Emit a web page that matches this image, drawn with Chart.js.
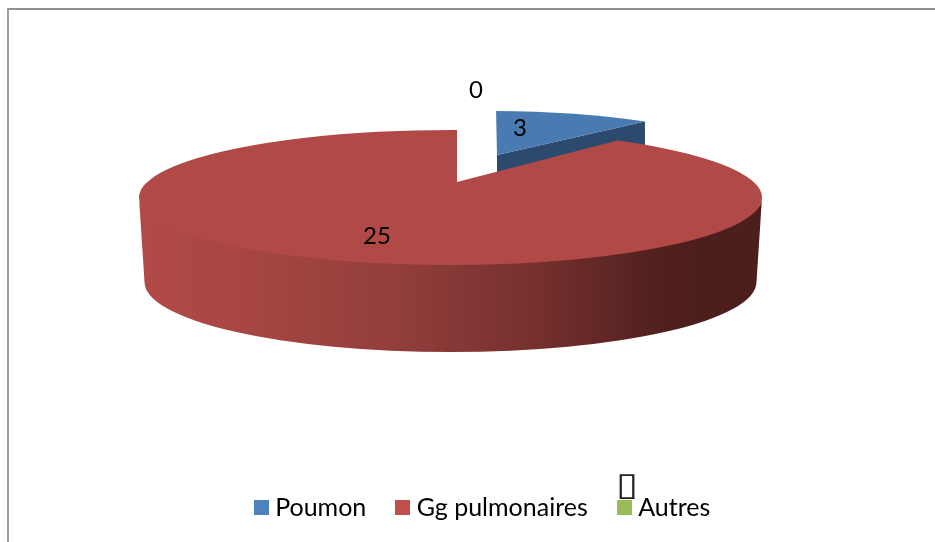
<!DOCTYPE html>
<html><head><meta charset="utf-8">
<script src="https://cdn.jsdelivr.net/npm/chart.js@4"></script>
<style>
html,body{margin:0;padding:0;background:#fff;overflow:hidden}
#wrap{position:relative;width:935px;height:542px}
#frame{position:absolute;left:7px;top:8px;right:0;bottom:0;border-left:2px solid #a0a0a0;border-top:2px solid #909090}
canvas{position:absolute;left:0;top:0}
</style></head><body>
<div id="wrap"><div id="frame"></div><canvas id="c" width="935" height="542"></canvas></div>
<script>
const categories = ["Poumon", "Gg pulmonaires", "Autres"];
const values = [3, 25, 0];
const legendColors = ["#4F81BD", "#C0504D", "#9BBB59"];
const labelAnchors = [[520,128],[377,236],[476,90]];

const FONT = "Lato, Carlito, sans-serif";
function swatch(color){
  const s=document.createElement('canvas'); s.width=15; s.height=15;
  const g=s.getContext('2d'); g.fillStyle=color; g.fillRect(0,0,15,15); return s;
}
function warp(t){ // foreshortening of the tilted disc
  const k=0.76; let a=Math.atan2(k*Math.sin(t),Math.cos(t));
  if(a<0) a+=2*Math.PI;
  const turns=Math.floor(t/(2*Math.PI)+1e-9);
  if(Math.abs(t-2*Math.PI*turns)<1e-9) return 2*Math.PI*turns;
  return a+2*Math.PI*turns;
}
const TURN=0.021;
const discs=[
 {apex:[497,155],c:[490,178.5],rx:289,ry:67.5,top:'#4A7AB2',cut:'#2C4A6E',depth:87},
 {apex:[457,182],c:[450.5,197.5],rx:311.5,ry:67.5,top:'#B14A47'}
];
const pie3d={id:'pie3d',
 beforeDatasetsDraw(chart){
  const ctx=chart.ctx, arcs=chart.getDatasetMeta(0).data;
  const ang=a=>warp(a+Math.PI/2)+TURN-Math.PI/2;
  // blue slice: cut face then top
  let d=discs[0], el=arcs[0], e=ang(el.endAngle), s=ang(el.startAngle);
  const ex=d.c[0]+d.rx*Math.cos(e), ey=d.c[1]+d.ry*Math.sin(e);
  ctx.save();
  ctx.fillStyle=d.cut; ctx.beginPath();
  ctx.moveTo(d.apex[0],d.apex[1]); ctx.lineTo(ex,ey); ctx.lineTo(ex,ey+d.depth); ctx.lineTo(d.apex[0],d.apex[1]+d.depth); ctx.closePath(); ctx.fill();
  ctx.fillStyle=d.top; ctx.beginPath();
  ctx.moveTo(d.apex[0],d.apex[1]); ctx.ellipse(d.c[0],d.c[1],d.rx,d.ry,0,s,e); ctx.closePath(); ctx.fill();
  // red slice: outer wall then top
  d=discs[1]; el=arcs[1];
  const g=ctx.createLinearGradient(139,0,762,0);
  [[0,'#B14A47'],[0.18,'#A64643'],[0.42,'#913E3B'],[0.65,'#742F2C'],[0.82,'#522120'],[0.9,'#4C1E1C'],[1,'#4C1E1C']].forEach(p=>g.addColorStop(p[0],p[1]));
  ctx.fillStyle=g; ctx.beginPath();
  ctx.moveTo(139,197.5); ctx.lineTo(144.5,282);
  ctx.ellipse(450.5,282,306,70,0,Math.PI,0,true);
  ctx.lineTo(762,197.5);
  ctx.ellipse(d.c[0],d.c[1],d.rx,d.ry-3,0,0,Math.PI,false);
  ctx.closePath(); ctx.fill();
  ctx.fillStyle=d.top; ctx.beginPath();
  ctx.moveTo(d.apex[0],d.apex[1]);
  ctx.ellipse(d.c[0],d.c[1],d.rx,d.ry,0,ang(el.startAngle),ang(el.endAngle));
  ctx.closePath(); ctx.fill();
  ctx.restore();
  return false;
 },
 afterDraw(chart){
  const ctx=chart.ctx;
  ctx.save();
  ctx.fillStyle='#000'; ctx.textAlign='center'; ctx.textBaseline='middle';
  ctx.font='24px '+FONT;
  values.forEach((v,i)=>ctx.fillText(String(v),labelAnchors[i][0],labelAnchors[i][1]));
  ctx.translate(627,487); ctx.scale(1.25,1);
  ctx.font='32px "DejaVu Sans"';
  ctx.fillStyle='#222';
  ctx.fillText('\u25AF',0,0);
  ctx.restore();
 }
};
new Chart(document.getElementById('c'),{
 type:'pie',
 data:{labels:categories,datasets:[{data:values,backgroundColor:legendColors,borderWidth:0}]},
 plugins:[pie3d],
 options:{
  responsive:false,animation:false,rotation:0,
  layout:{padding:{top:20,bottom:12,left:35}},
  plugins:{
   tooltip:{enabled:false},
   legend:{position:'bottom',labels:{
     usePointStyle:true,pointStyleWidth:3,padding:35,color:'#000',
     font:{family:FONT,size:25},
     generateLabels:c=>categories.map((t,i)=>({text:t,pointStyle:swatch(legendColors[i]),fillStyle:legendColors[i],strokeStyle:legendColors[i],lineWidth:0,index:i,fontColor:'#000'}))
   }}
  }
 }
});
</script>
</body></html>
